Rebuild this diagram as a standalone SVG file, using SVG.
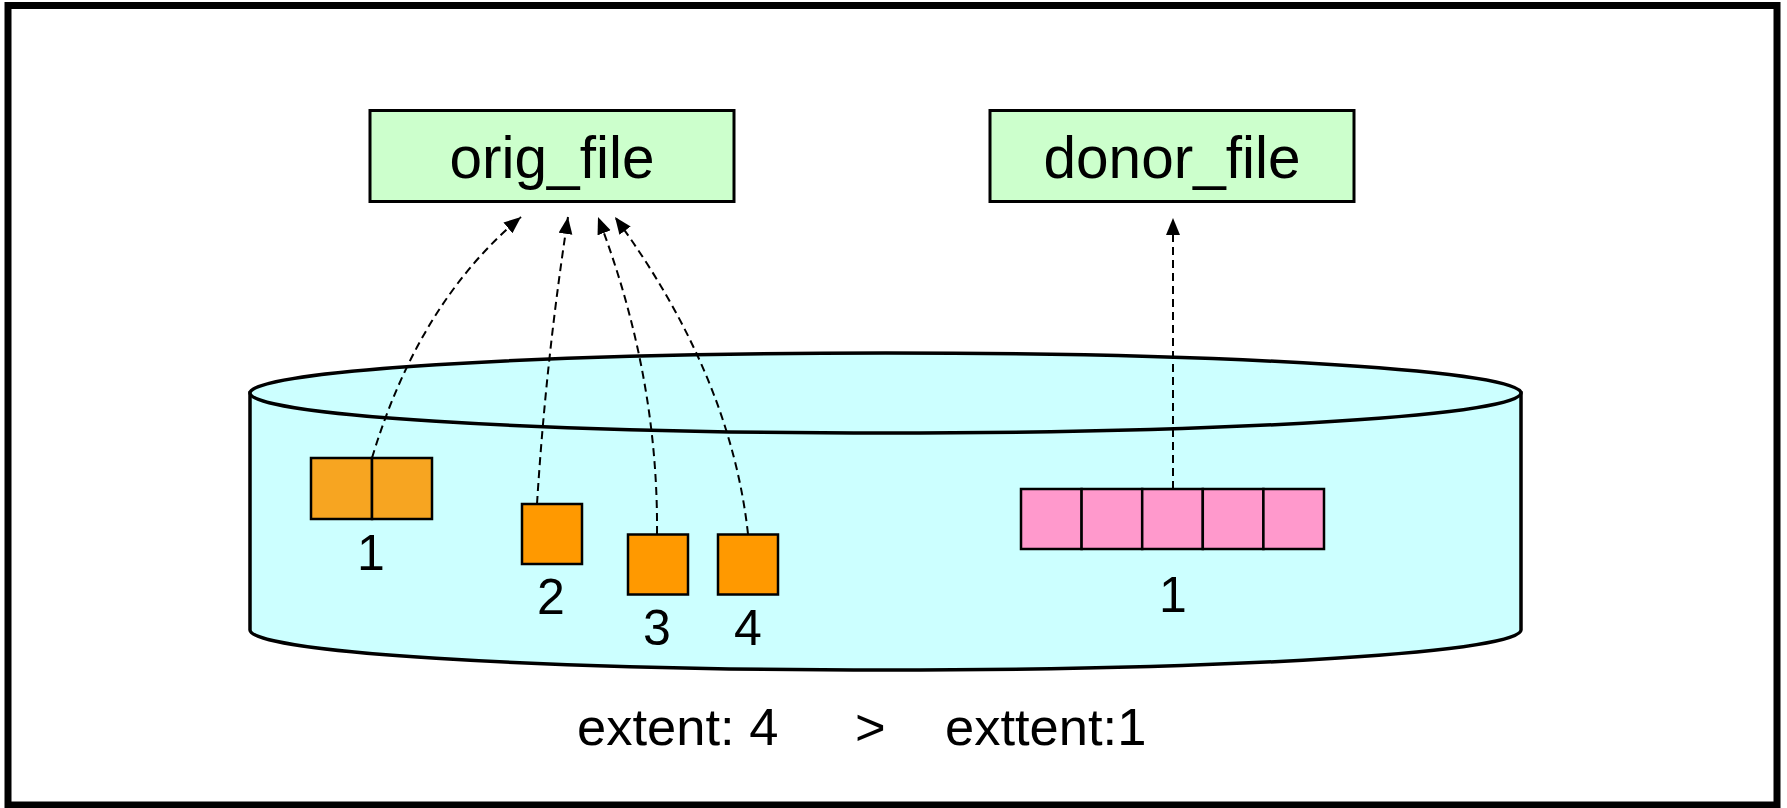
<svg xmlns="http://www.w3.org/2000/svg" width="1787" height="808" viewBox="0 0 1787 808">
  <style>
    .file { fill: #CCFFCC; stroke: #000; stroke-width: 3; }
    .file-label { font-family: "Liberation Sans", Arial, sans-serif; font-size: 58.5px; fill: #000; text-anchor: middle; }
    .num { font-family: "Liberation Sans", Arial, sans-serif; font-size: 50px; fill: #000; text-anchor: middle; }
    .caption { font-family: "Liberation Sans", Arial, sans-serif; font-size: 52.5px; fill: #000; }
    .blk-a { fill: #F7A521; stroke: #000; stroke-width: 2.5; }
    .blk-b { fill: #FF9900; stroke: #000; stroke-width: 2.5; }
    .blk-p { fill: #FF99CC; stroke: #000; stroke-width: 2.5; }
    .disk { fill: #CCFFFF; stroke: #000; stroke-width: 3.5; }
    .link { fill: none; stroke: #000; stroke-width: 2; stroke-dasharray: 8 5; }
  </style>
  <defs>
    <marker id="head" markerUnits="userSpaceOnUse" markerWidth="20" markerHeight="16" refX="17" refY="7" orient="auto">
      <path d="M0,0 L17,7 L0,14 z" fill="#000"/>
    </marker>
  </defs>

  <!-- frame -->
  <rect x="0" y="0" width="1787" height="808" fill="#fff"/>
  <rect x="8" y="5.5" width="1769" height="799.5" fill="none" stroke="#000" stroke-width="7"/>

  <!-- disk volume -->
  <g id="disk">
    <path class="disk" d="M250,393 L250,630 A635.5,40 0 0 0 1521,630 L1521,393 Z"/>
    <ellipse class="disk" cx="885.5" cy="393" rx="635.5" ry="40"/>
  </g>

  <g id="orig_file">
    <rect class="file" x="370" y="110.5" width="364" height="91"/>
    <text class="file-label" x="552" y="178">orig_file</text>
  </g>

  <g id="donor_file">
    <rect class="file" x="990" y="110.5" width="364" height="91"/>
    <text class="file-label" x="1172" y="178">donor_file</text>
  </g>

  <!-- extents of orig_file -->
  <g id="orig-extent-1">
    <rect class="blk-a" x="311" y="458" width="61" height="61"/>
    <rect class="blk-a" x="372" y="458" width="60" height="61"/>
    <text class="num" x="371" y="570">1</text>
  </g>
  <g id="orig-extent-2">
    <rect class="blk-b" x="522" y="504" width="60" height="60"/>
    <text class="num" x="551" y="614">2</text>
  </g>
  <g id="orig-extent-3">
    <rect class="blk-b" x="628" y="534.5" width="60" height="60"/>
    <text class="num" x="657" y="645">3</text>
  </g>
  <g id="orig-extent-4">
    <rect class="blk-b" x="718" y="534.5" width="60" height="60"/>
    <text class="num" x="748" y="645">4</text>
  </g>

  <!-- extent of donor_file -->
  <g id="donor-extent-1">
    <rect class="blk-p" x="1021" y="489" width="60.6" height="60"/>
    <rect class="blk-p" x="1081.6" y="489" width="60.6" height="60"/>
    <rect class="blk-p" x="1142.2" y="489" width="60.6" height="60"/>
    <rect class="blk-p" x="1202.8" y="489" width="60.6" height="60"/>
    <rect class="blk-p" x="1263.4" y="489" width="60.6" height="60"/>
    <text class="num" x="1173" y="612">1</text>
  </g>

  <g id="connectors">
    <path class="link" marker-end="url(#head)" d="M372,458 Q419,302 521,217"/>
    <path class="link" marker-end="url(#head)" d="M537,504 Q546,360 568,217"/>
    <path class="link" marker-end="url(#head)" d="M657,534 Q658.5,374.5 598,217"/>
    <path class="link" marker-end="url(#head)" d="M748,534 Q730.5,374.5 615,217"/>
    <path class="link" marker-end="url(#head)" d="M1173,489 L1173,218"/>
  </g>

  <g id="caption">
    <text class="caption" x="577" y="745">extent: 4</text>
    <text class="caption" x="855" y="745">&gt;</text>
    <text class="caption" x="945" y="745">exttent:1</text>
  </g>
</svg>
